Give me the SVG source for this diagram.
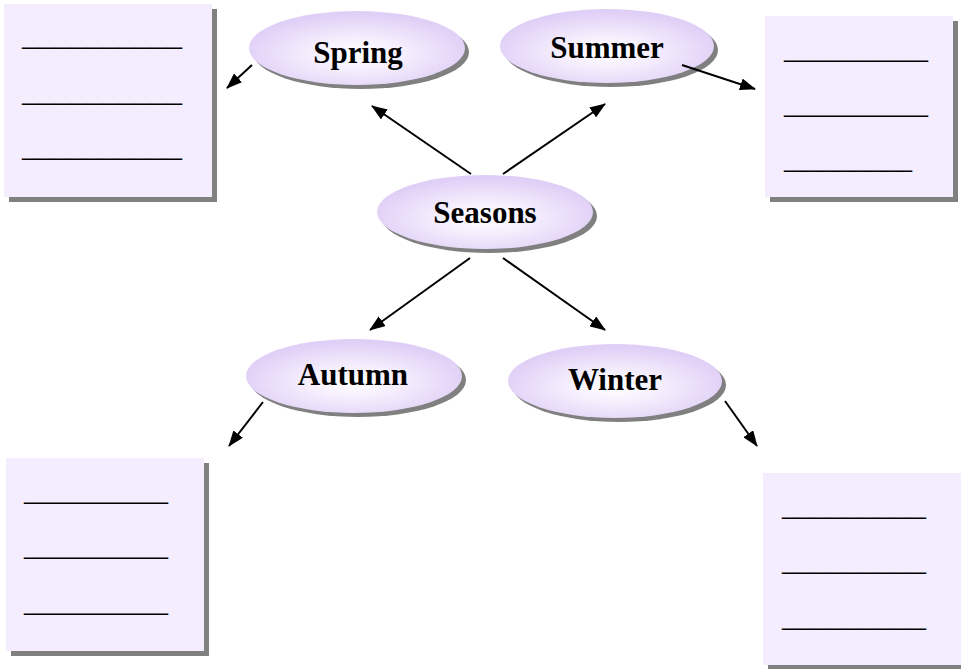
<svg xmlns="http://www.w3.org/2000/svg" width="961" height="669" viewBox="0 0 961 669">
<defs>
<radialGradient id="eg" cx="0.5" cy="0.58" r="0.55">
<stop offset="0" stop-color="#FFFFFF"/>
<stop offset="0.4" stop-color="#F5EEFD"/>
<stop offset="1" stop-color="#DFCEF6"/>
</radialGradient>
<marker id="ah" viewBox="0 0 16 12" refX="15" refY="6" markerWidth="16" markerHeight="12" markerUnits="userSpaceOnUse" orient="auto">
<path d="M0,0 L16,6 L0,12 Z" fill="#000"/>
</marker>
<style>
.shd{fill:#808080}
.box{fill:#F4EDFE}
.ell{fill:url(#eg)}
.lbl{font-family:"Liberation Serif","Times New Roman",serif;font-weight:bold;font-size:31px;fill:#000;text-anchor:middle}
.ul{font-family:"Liberation Serif","Times New Roman",serif;font-size:32px;fill:#000}
.con{stroke:#000;stroke-width:2;fill:none;marker-end:url(#ah)}
</style>
</defs>
<rect width="961" height="669" fill="#FFFFFF"/>

<g id="box-spring">
<rect class="shd" x="9" y="9" width="208" height="193"/>
<rect class="box" x="4" y="4" width="208" height="193"/>
<text class="ul" x="22" y="45">__________</text>
<text class="ul" x="22" y="101">__________</text>
<text class="ul" x="22" y="156">__________</text>
</g>

<g id="box-summer">
<rect class="shd" x="770" y="21" width="188" height="181"/>
<rect class="box" x="765" y="16" width="188" height="181"/>
<text class="ul" x="784" y="58">_________</text>
<text class="ul" x="784" y="113">_________</text>
<text class="ul" x="784" y="168">________</text>
</g>

<g id="box-autumn">
<rect class="shd" x="11" y="463" width="198" height="193"/>
<rect class="box" x="6" y="458" width="198" height="193"/>
<text class="ul" x="24" y="500">_________</text>
<text class="ul" x="24" y="555">_________</text>
<text class="ul" x="24" y="611">_________</text>
</g>

<g id="box-winter">
<rect class="shd" x="768" y="478" width="200" height="191"/>
<rect class="box" x="763" y="473" width="200" height="192"/>
<text class="ul" x="782" y="515">_________</text>
<text class="ul" x="782" y="570">_________</text>
<text class="ul" x="782" y="626">_________</text>
</g>

<g id="node-spring">
<ellipse class="shd" cx="361" cy="52" rx="108" ry="37"/>
<ellipse class="ell" cx="357" cy="48" rx="108" ry="37"/>
<text class="lbl" x="358" y="63">Spring</text>
</g>

<g id="node-summer">
<ellipse class="shd" cx="611" cy="50" rx="107" ry="37"/>
<ellipse class="ell" cx="607" cy="46" rx="107" ry="37"/>
<text class="lbl" x="607" y="58">Summer</text>
</g>

<g id="node-seasons">
<ellipse class="shd" cx="489" cy="216" rx="108" ry="37"/>
<ellipse class="ell" cx="485" cy="212" rx="108" ry="37"/>
<text class="lbl" x="485" y="223">Seasons</text>
</g>

<g id="node-autumn">
<ellipse class="shd" cx="358" cy="380" rx="108" ry="37"/>
<ellipse class="ell" cx="354" cy="376" rx="108" ry="37"/>
<text class="lbl" x="353" y="385">Autumn</text>
</g>

<g id="node-winter">
<ellipse class="shd" cx="619" cy="385" rx="107" ry="37"/>
<ellipse class="ell" cx="615" cy="381" rx="107" ry="37"/>
<text class="lbl" x="615" y="390">Winter</text>
</g>

<g id="connectors">
<line class="con" x1="471" y1="174" x2="372" y2="106"/>
<line class="con" x1="503" y1="174" x2="605" y2="104"/>
<line class="con" x1="470" y1="258" x2="370" y2="330"/>
<line class="con" x1="503" y1="258" x2="605" y2="330"/>
<line class="con" x1="252" y1="65" x2="227" y2="88"/>
<line class="con" x1="682" y1="65" x2="755" y2="89"/>
<line class="con" x1="263" y1="402" x2="229" y2="446"/>
<line class="con" x1="725" y1="401" x2="757" y2="446"/>
</g>
</svg>
